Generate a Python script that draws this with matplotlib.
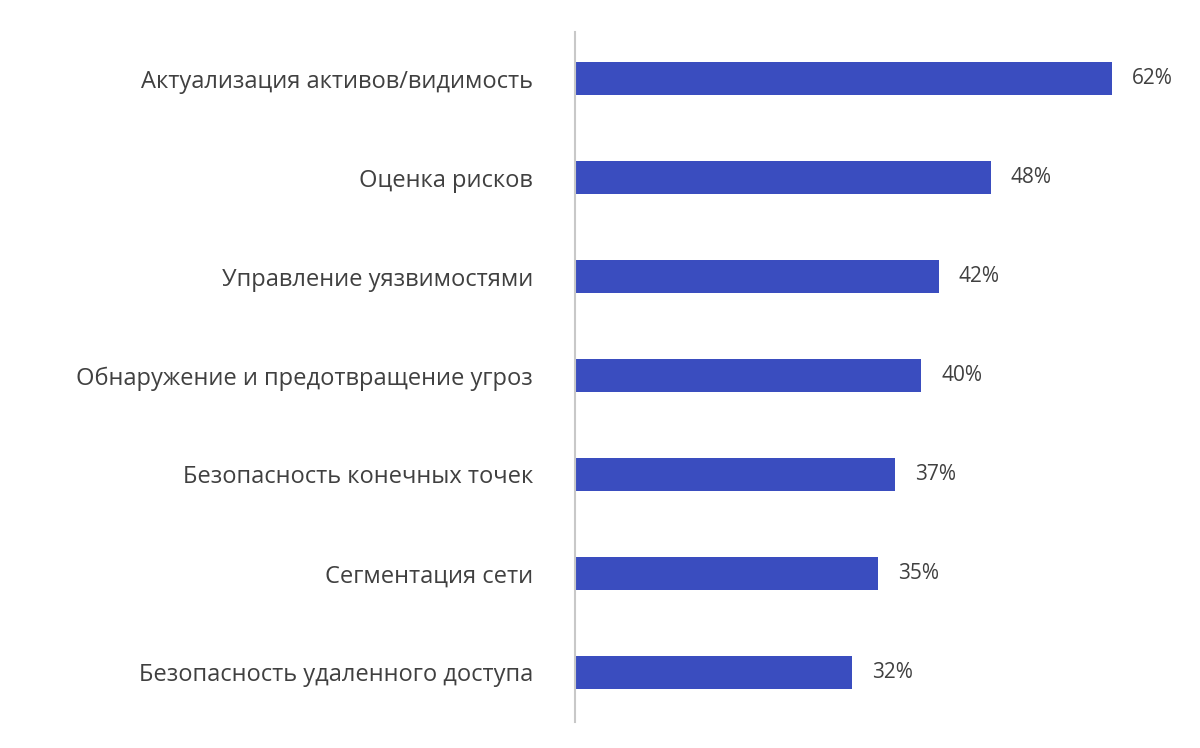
import matplotlib
matplotlib.use("Agg")
import matplotlib.pyplot as plt

categories = ["Актуализация активов/видимость", "Оценка рисков", "Управление уязвимостями",
              "Обнаружение и предотвращение угроз", "Безопасность конечных точек",
              "Сегментация сети", "Безопасность удаленного доступа"]
values = [62, 48, 42, 40, 37, 35, 32]
value_labels = ["62%", "48%", "42%", "40%", "37%", "35%", "32%"]

plt.rcParams["font.family"] = "Open Sans"
fig = plt.figure(figsize=(12, 7.48), dpi=100)
ax = fig.add_axes([0.479, 0.035, 0.52, 0.922])
y = list(range(len(categories)))
ax.barh(y, values, height=0.34, color="#3A4DBF")
for yi, v, t in zip(y, values, value_labels):
    ax.text(v + 2.3, yi, t, va="center", ha="left", fontsize=15, color="#404040")
ax.set_yticks(y)
ax.set_yticklabels(categories, fontsize=17, color="#404040")
ax.set_ylim(6.5, -0.47)
ax.set_xlim(0, 72)
ax.set_xticks([])
ax.tick_params(axis="y", length=0, pad=30)
for s in ["top", "right", "bottom"]:
    ax.spines[s].set_visible(False)
ax.spines["left"].set_color("#c8c8c8")
ax.spines["left"].set_linewidth(1.5)
fig.savefig("out.png", dpi=100)
